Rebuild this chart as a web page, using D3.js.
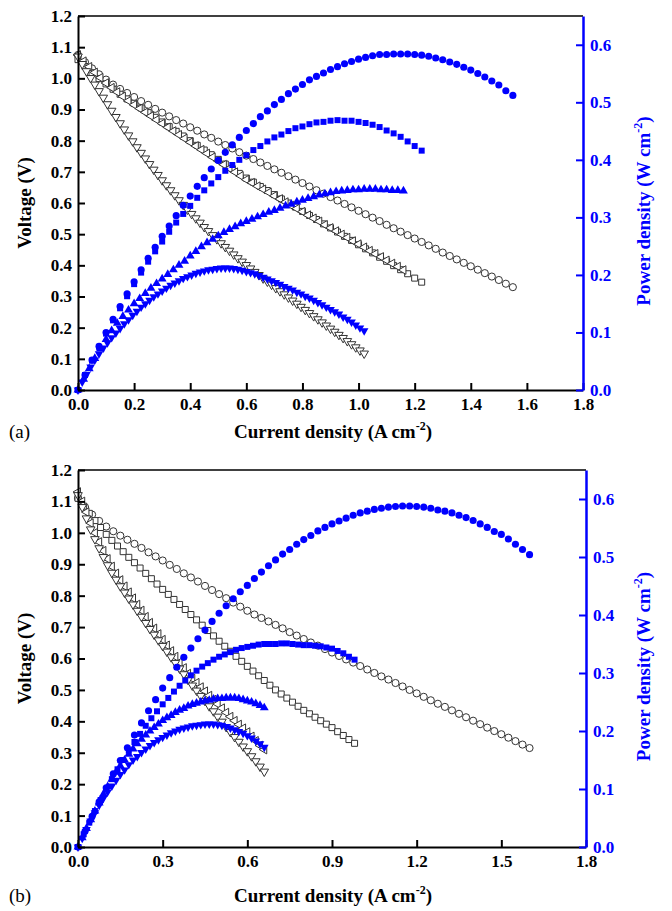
<!DOCTYPE html>
<html>
<head>
<meta charset="utf-8">
<script src="https://cdn.jsdelivr.net/npm/d3@7"></script>
<style>
  body { margin: 0; background: #fff; }
</style>
</head>
<body>
<div id="chart"></div>
<script>
// ---------- data: panel (a) ----------
// sample 1: open circles (voltage) / filled circles (power)
const curA1 = [0,0.025,0.05,0.075,0.1,0.125,0.15,0.175,0.2,0.225,0.25,0.275,0.3,0.325,0.35,0.375,0.4,0.425,0.45,0.475,0.5,0.525,0.55,0.575,0.6,0.625,0.65,0.675,0.7,0.725,0.75,0.775,0.8,0.825,0.85,0.875,0.9,0.925,0.95,0.975,1.0,1.025,1.05,1.075,1.1,1.125,1.15,1.175,1.2,1.225,1.25,1.275,1.3,1.325,1.35,1.375,1.4,1.425,1.45,1.475,1.5,1.525,1.55];
const voltA1 = [1.075,1.052,1.032,1.013,0.996,0.98,0.966,0.953,0.94,0.927,0.915,0.902,0.89,0.878,0.866,0.855,0.843,0.832,0.82,0.809,0.797,0.786,0.775,0.763,0.752,0.741,0.73,0.719,0.708,0.697,0.686,0.675,0.664,0.653,0.641,0.63,0.619,0.608,0.597,0.586,0.575,0.564,0.553,0.542,0.53,0.519,0.508,0.497,0.486,0.475,0.464,0.453,0.441,0.43,0.419,0.408,0.397,0.386,0.375,0.364,0.353,0.341,0.33];
const powA1 = [0,0.026,0.052,0.076,0.1,0.123,0.145,0.167,0.188,0.209,0.229,0.248,0.267,0.285,0.303,0.321,0.337,0.354,0.369,0.384,0.399,0.413,0.426,0.439,0.451,0.463,0.475,0.485,0.496,0.505,0.515,0.523,0.531,0.539,0.545,0.551,0.557,0.562,0.567,0.571,0.575,0.578,0.581,0.583,0.583,0.584,0.584,0.584,0.583,0.582,0.58,0.577,0.574,0.57,0.566,0.561,0.556,0.55,0.544,0.537,0.53,0.52,0.512];

// sample 2: open squares / filled squares
const curA2 = [0,0.025,0.05,0.075,0.1,0.125,0.15,0.175,0.2,0.225,0.25,0.275,0.3,0.325,0.35,0.375,0.4,0.425,0.45,0.475,0.5,0.525,0.55,0.575,0.6,0.625,0.65,0.675,0.7,0.725,0.75,0.775,0.8,0.825,0.85,0.875,0.9,0.925,0.95,0.975,1.0,1.025,1.05,1.075,1.1,1.125,1.15,1.175,1.2,1.225];
const voltA2 = [1.06,1.038,1.018,0.999,0.982,0.965,0.949,0.934,0.92,0.905,0.89,0.875,0.86,0.845,0.83,0.815,0.8,0.785,0.77,0.755,0.74,0.725,0.71,0.695,0.68,0.667,0.653,0.64,0.627,0.613,0.6,0.587,0.573,0.56,0.547,0.533,0.52,0.507,0.493,0.48,0.466,0.453,0.44,0.426,0.413,0.399,0.386,0.373,0.359,0.346];
const powA2 = [0,0.026,0.051,0.075,0.098,0.121,0.142,0.163,0.184,0.204,0.223,0.241,0.258,0.275,0.291,0.306,0.32,0.334,0.347,0.359,0.37,0.381,0.391,0.4,0.408,0.417,0.424,0.432,0.439,0.444,0.45,0.455,0.458,0.462,0.465,0.466,0.468,0.469,0.468,0.468,0.466,0.464,0.461,0.457,0.451,0.446,0.44,0.432,0.424,0.416];

// sample 3: open left triangles / filled up triangles
const curA3 = [0,0.02,0.04,0.06,0.08,0.1,0.12,0.14,0.16,0.18,0.2,0.22,0.24,0.26,0.28,0.3,0.32,0.34,0.36,0.38,0.4,0.42,0.44,0.46,0.48,0.5,0.52,0.54,0.56,0.58,0.6,0.62,0.64,0.66,0.68,0.7,0.72,0.74,0.76,0.78,0.8,0.82,0.84,0.86,0.88,0.9,0.92,0.94,0.96,0.98,1.0,1.02,1.04,1.06,1.08,1.1,1.12,1.14,1.16];
const voltA3 = [1.075,1.055,1.037,1.019,1.002,0.985,0.97,0.956,0.942,0.928,0.915,0.903,0.891,0.879,0.867,0.855,0.843,0.831,0.819,0.807,0.795,0.783,0.771,0.759,0.747,0.735,0.723,0.711,0.699,0.687,0.675,0.665,0.654,0.644,0.634,0.623,0.613,0.603,0.592,0.582,0.572,0.561,0.551,0.541,0.53,0.52,0.51,0.499,0.489,0.478,0.468,0.458,0.447,0.437,0.427,0.416,0.406,0.396,0.385];
const powA3 = [0,0.019,0.037,0.055,0.072,0.088,0.103,0.116,0.128,0.139,0.15,0.159,0.168,0.177,0.185,0.193,0.201,0.209,0.217,0.224,0.233,0.241,0.249,0.256,0.262,0.268,0.274,0.279,0.284,0.289,0.293,0.297,0.301,0.305,0.309,0.312,0.316,0.32,0.323,0.327,0.33,0.333,0.336,0.339,0.341,0.343,0.345,0.346,0.347,0.348,0.348,0.349,0.349,0.349,0.348,0.348,0.347,0.347,0.346];

// sample 4: open down triangles / filled down triangles
const curA4 = [0,0.015,0.03,0.045,0.06,0.075,0.09,0.105,0.12,0.135,0.15,0.165,0.18,0.195,0.21,0.225,0.24,0.255,0.27,0.285,0.3,0.315,0.33,0.345,0.36,0.375,0.39,0.405,0.42,0.435,0.45,0.465,0.48,0.495,0.51,0.525,0.54,0.555,0.57,0.585,0.6,0.615,0.63,0.645,0.66,0.675,0.69,0.705,0.72,0.735,0.75,0.765,0.78,0.795,0.81,0.825,0.84,0.855,0.87,0.885,0.9,0.915,0.93,0.945,0.96,0.975,0.99,1.005,1.02];
const voltA4 = [1.07,1.046,1.023,1.001,0.98,0.959,0.938,0.917,0.896,0.876,0.856,0.836,0.817,0.798,0.779,0.761,0.743,0.725,0.707,0.69,0.673,0.657,0.641,0.625,0.609,0.594,0.579,0.565,0.551,0.537,0.523,0.51,0.497,0.484,0.471,0.459,0.447,0.435,0.423,0.412,0.401,0.39,0.379,0.369,0.358,0.348,0.338,0.327,0.317,0.307,0.297,0.287,0.277,0.267,0.257,0.247,0.237,0.227,0.217,0.207,0.197,0.187,0.177,0.167,0.157,0.147,0.137,0.127,0.117];
const powA4 = [0,0.014,0.027,0.04,0.052,0.063,0.073,0.082,0.091,0.099,0.107,0.115,0.122,0.13,0.137,0.144,0.15,0.156,0.162,0.167,0.172,0.177,0.182,0.186,0.19,0.194,0.197,0.2,0.203,0.205,0.207,0.209,0.21,0.211,0.212,0.212,0.212,0.211,0.21,0.208,0.206,0.204,0.202,0.199,0.196,0.193,0.19,0.187,0.184,0.18,0.177,0.174,0.17,0.167,0.163,0.16,0.156,0.152,0.148,0.144,0.14,0.136,0.132,0.127,0.123,0.118,0.113,0.108,0.103];

// ---------- data: panel (b) ----------
const curB1 = [0,0.025,0.05,0.075,0.1,0.125,0.15,0.175,0.2,0.225,0.25,0.275,0.3,0.325,0.35,0.375,0.4,0.425,0.45,0.475,0.5,0.525,0.55,0.575,0.6,0.625,0.65,0.675,0.7,0.725,0.75,0.775,0.8,0.825,0.85,0.875,0.9,0.925,0.95,0.975,1.0,1.025,1.05,1.075,1.1,1.125,1.15,1.175,1.2,1.225,1.25,1.275,1.3,1.325,1.35,1.375,1.4,1.425,1.45,1.475,1.5,1.525,1.55,1.575,1.6];
const voltB1 = [1.11,1.082,1.058,1.038,1.02,1.005,0.991,0.978,0.965,0.952,0.938,0.925,0.912,0.898,0.885,0.871,0.858,0.845,0.831,0.818,0.805,0.792,0.778,0.765,0.752,0.74,0.729,0.718,0.707,0.696,0.684,0.673,0.662,0.651,0.641,0.63,0.619,0.608,0.597,0.587,0.576,0.565,0.554,0.543,0.533,0.522,0.511,0.5,0.489,0.478,0.467,0.456,0.446,0.435,0.424,0.413,0.402,0.391,0.38,0.369,0.359,0.348,0.337,0.326,0.315];
const powB1 = [0,0.027,0.053,0.078,0.102,0.126,0.149,0.171,0.193,0.214,0.235,0.254,0.274,0.292,0.31,0.327,0.343,0.359,0.374,0.389,0.403,0.416,0.428,0.44,0.451,0.463,0.474,0.485,0.495,0.505,0.513,0.522,0.53,0.537,0.545,0.551,0.557,0.562,0.567,0.572,0.576,0.579,0.582,0.584,0.586,0.587,0.588,0.588,0.587,0.586,0.584,0.581,0.579,0.576,0.572,0.568,0.563,0.557,0.551,0.544,0.539,0.531,0.522,0.513,0.504];

const curB2 = [0,0.02,0.04,0.06,0.08,0.1,0.12,0.14,0.16,0.18,0.2,0.22,0.24,0.26,0.28,0.3,0.32,0.34,0.36,0.38,0.4,0.42,0.44,0.46,0.48,0.5,0.52,0.54,0.56,0.58,0.6,0.62,0.64,0.66,0.68,0.7,0.72,0.74,0.76,0.78,0.8,0.82,0.84,0.86,0.88,0.9,0.92,0.94,0.96,0.98];
const voltB2 = [1.11,1.085,1.062,1.039,1.017,0.995,0.976,0.958,0.94,0.922,0.905,0.888,0.871,0.854,0.837,0.82,0.804,0.788,0.772,0.756,0.74,0.723,0.706,0.689,0.672,0.655,0.639,0.623,0.607,0.591,0.575,0.56,0.545,0.53,0.515,0.5,0.487,0.474,0.461,0.448,0.435,0.424,0.413,0.402,0.391,0.38,0.367,0.355,0.342,0.33];
const powB2 = [0,0.022,0.042,0.062,0.081,0.1,0.117,0.134,0.15,0.166,0.181,0.195,0.209,0.222,0.234,0.246,0.257,0.268,0.278,0.287,0.296,0.304,0.311,0.317,0.323,0.328,0.332,0.336,0.34,0.343,0.345,0.347,0.349,0.35,0.35,0.35,0.351,0.351,0.35,0.349,0.348,0.348,0.347,0.346,0.344,0.342,0.338,0.334,0.328,0.323];

const curB3 = [0,0.015,0.03,0.045,0.06,0.075,0.09,0.105,0.12,0.135,0.15,0.165,0.18,0.195,0.21,0.225,0.24,0.255,0.27,0.285,0.3,0.315,0.33,0.345,0.36,0.375,0.39,0.405,0.42,0.435,0.45,0.465,0.48,0.495,0.51,0.525,0.54,0.555,0.57,0.585,0.6,0.615,0.63,0.645,0.66];
const voltB3 = [1.13,1.1,1.066,1.031,1.0,0.971,0.943,0.917,0.893,0.871,0.85,0.83,0.811,0.792,0.772,0.753,0.733,0.714,0.696,0.678,0.66,0.642,0.624,0.606,0.588,0.57,0.552,0.536,0.523,0.509,0.496,0.482,0.469,0.455,0.442,0.428,0.415,0.402,0.39,0.378,0.366,0.352,0.338,0.323,0.31];
const powB3 = [0,0.016,0.032,0.047,0.062,0.076,0.091,0.104,0.117,0.129,0.14,0.15,0.16,0.169,0.178,0.186,0.193,0.2,0.206,0.212,0.218,0.223,0.227,0.232,0.236,0.239,0.243,0.246,0.248,0.25,0.252,0.253,0.255,0.256,0.256,0.257,0.257,0.257,0.256,0.254,0.252,0.25,0.247,0.244,0.24];

const curB4 = [0,0.015,0.03,0.045,0.06,0.075,0.09,0.105,0.12,0.135,0.15,0.165,0.18,0.195,0.21,0.225,0.24,0.255,0.27,0.285,0.3,0.315,0.33,0.345,0.36,0.375,0.39,0.405,0.42,0.435,0.45,0.465,0.48,0.495,0.51,0.525,0.54,0.555,0.57,0.585,0.6,0.615,0.63,0.645,0.66];
const voltB4 = [1.12,1.082,1.046,1.011,0.98,0.951,0.923,0.897,0.873,0.851,0.83,0.81,0.791,0.772,0.752,0.733,0.713,0.694,0.676,0.658,0.64,0.622,0.604,0.586,0.568,0.55,0.532,0.514,0.498,0.481,0.465,0.448,0.432,0.415,0.399,0.382,0.366,0.35,0.335,0.32,0.305,0.289,0.273,0.256,0.24];
const powB4 = [0,0.015,0.03,0.045,0.059,0.072,0.084,0.095,0.105,0.115,0.125,0.133,0.142,0.15,0.156,0.163,0.169,0.175,0.18,0.185,0.189,0.193,0.197,0.2,0.203,0.205,0.207,0.209,0.21,0.211,0.212,0.212,0.212,0.211,0.21,0.208,0.205,0.202,0.199,0.196,0.192,0.188,0.183,0.178,0.172];

// ---------- ticks ----------
const xTicksA = [0, 0.2, 0.4, 0.6, 0.8, 1.0, 1.2, 1.4, 1.6, 1.8];
const xTicksB = [0, 0.3, 0.6, 0.9, 1.2, 1.5, 1.8];
const voltTicks = [0, 0.1, 0.2, 0.3, 0.4, 0.5, 0.6, 0.7, 0.8, 0.9, 1.0, 1.1, 1.2];
const powTicks = [0, 0.1, 0.2, 0.3, 0.4, 0.5, 0.6];

const width = 672;
const height = 911;
const BLUE = "#0000ff";
const SERIF = "'Liberation Serif', 'Times New Roman', serif";
const fmt = d3.format(".1f");

let svg = d3.select("#chart").append("svg")
  .attr("width", width)
  .attr("height", height)
  .style("font-family", SERIF);

// marker kinds
const shapes = {
  circle: { type: d3.symbolCircle, rot: 0, size: 40 },
  square: { type: d3.symbolSquare, rot: 0, size: 36 },
  left: { type: d3.symbolTriangle, rot: -90, size: 32 },
  down: { type: d3.symbolTriangle, rot: 180, size: 32 },
  up: { type: d3.symbolTriangle, rot: 0, size: 34 },
};

const panels = [
  {
    tag: "(a)", top: 16, bottom: 390, left: 78, right: 583,
    xTicks: xTicksA, xMinorStep: 0.1, textY: 438,
    series: [
      { cur: curA1, volt: voltA1, pow: powA1, open: "circle", filled: "circle" },
      { cur: curA2, volt: voltA2, pow: powA2, open: "square", filled: "square" },
      { cur: curA3, volt: voltA3, pow: powA3, open: "left", filled: "up" },
      { cur: curA4, volt: voltA4, pow: powA4, open: "down", filled: "down" },
    ],
  },
  {
    tag: "(b)", top: 470, bottom: 847, left: 78, right: 586,
    xTicks: xTicksB, xMinorStep: 0.15, textY: 902,
    series: [
      { cur: curB1, volt: voltB1, pow: powB1, open: "circle", filled: "circle" },
      { cur: curB2, volt: voltB2, pow: powB2, open: "square", filled: "square" },
      { cur: curB3, volt: voltB3, pow: powB3, open: "left", filled: "up" },
      { cur: curB4, volt: voltB4, pow: powB4, open: "down", filled: "down" },
    ],
  },
];

// superscript title helper
function titleWithSup(sel, before, sup, after) {
  sel.append("tspan").text(before);
  sel.append("tspan").attr("dy", -8).attr("font-size", 12).text(sup);
  sel.append("tspan").attr("dy", 8).text(after);
}

panels.forEach((p) => {
  const x = d3.scaleLinear().domain([0, 1.8]).range([p.left, p.right]);
  const yV = d3.scaleLinear().domain([0, 1.2]).range([p.bottom, p.top]);
  const yP = d3.scaleLinear().domain([0, 0.65]).range([p.bottom, p.top]);
  const g = svg.append("g");

  // voltage markers (open, black)
  p.series.forEach((s) => {
    const sh = shapes[s.open];
    const sym = d3.symbol().type(sh.type).size(sh.size);
    g.append("g").selectAll("path")
      .data(d3.zip(s.cur, s.volt))
      .join("path")
      .attr("d", sym)
      .attr("transform", (d) => `translate(${x(d[0])},${yV(d[1])}) rotate(${sh.rot})`)
      .attr("fill", "#fff")
      .attr("stroke", "#333")
      .attr("stroke-width", 1);
  });

  // power markers (filled, blue)
  p.series.forEach((s) => {
    const sh = shapes[s.filled];
    const sym = d3.symbol().type(sh.type).size(sh.size);
    g.append("g").selectAll("path")
      .data(d3.zip(s.cur, s.pow))
      .join("path")
      .attr("d", sym)
      .attr("transform", (d) => `translate(${x(d[0])},${yP(d[1])}) rotate(${sh.rot})`)
      .attr("fill", BLUE);
  });

  // top frame line
  g.append("line")
    .attr("x1", p.left).attr("x2", p.right)
    .attr("y1", p.top).attr("y2", p.top)
    .attr("stroke", "#000").attr("stroke-width", 1.5);

  // minor ticks sit halfway between the labelled ones
  const xMinor = d3.range(p.xMinorStep, 1.8, p.xMinorStep * 2);
  const vMinor = d3.range(0.05, 1.2, 0.1);
  const pMinor = d3.range(0.05, 0.65, 0.1);

  const bottomG = g.append("g").attr("transform", `translate(0,${p.bottom})`);
  bottomG.call(d3.axisBottom(x).tickValues(xMinor).tickSize(-4).tickSizeOuter(0).tickFormat(""));
  bottomG.call(d3.axisBottom(x).tickValues(p.xTicks).tickSize(-7).tickSizeOuter(0).tickPadding(8).tickFormat(fmt));

  const leftG = g.append("g").attr("transform", `translate(${p.left},0)`);
  leftG.call(d3.axisLeft(yV).tickValues(vMinor).tickSize(-4).tickSizeOuter(0).tickFormat(""));
  leftG.call(d3.axisLeft(yV).tickValues(voltTicks).tickSize(-7).tickSizeOuter(0).tickPadding(6).tickFormat(fmt));

  const rightG = g.append("g").attr("transform", `translate(${p.right},0)`);
  rightG.call(d3.axisRight(yP).tickValues(pMinor).tickSize(-5).tickSizeOuter(0).tickFormat(""));
  rightG.call(d3.axisRight(yP).tickValues(powTicks).tickSize(-7).tickSizeOuter(0).tickPadding(7).tickFormat(fmt));

  [bottomG, leftG].forEach((a) => {
    a.selectAll(".domain").attr("stroke", "#000").attr("stroke-width", 2);
    a.selectAll(".tick line").attr("stroke", "#000").attr("stroke-width", 2);
    a.selectAll("text").attr("fill", "#000");
  });
  rightG.selectAll(".domain").attr("stroke", BLUE).attr("stroke-width", 2.5);
  rightG.selectAll(".tick line").attr("stroke", BLUE).attr("stroke-width", 2);
  rightG.selectAll("text").attr("fill", BLUE);
  [bottomG, leftG, rightG].forEach((a) => {
    a.selectAll("text")
      .attr("font-family", SERIF)
      .attr("font-size", 17)
      .attr("font-weight", "bold");
  });

  // axis titles
  const midV = (p.top + p.bottom) / 2;
  g.append("text")
    .attr("transform", `translate(31,${midV}) rotate(-90)`)
    .attr("text-anchor", "middle")
    .attr("font-size", 19).attr("font-weight", "bold")
    .text("Voltage (V)");

  const pt = g.append("text")
    .attr("transform", `translate(650,${midV + 8}) rotate(-90)`)
    .attr("text-anchor", "middle")
    .attr("font-size", 19).attr("font-weight", "bold")
    .attr("fill", BLUE);
  titleWithSup(pt, "Power density (W cm", "-2", ")");

  const ct = g.append("text")
    .attr("x", 333).attr("y", p.textY)
    .attr("text-anchor", "middle")
    .attr("font-size", 19).attr("font-weight", "bold");
  titleWithSup(ct, "Current density (A cm", "-2", ")");

  g.append("text")
    .attr("x", 9).attr("y", p.textY)
    .attr("font-size", 19)
    .text(p.tag);
});
</script>
</body>
</html>
